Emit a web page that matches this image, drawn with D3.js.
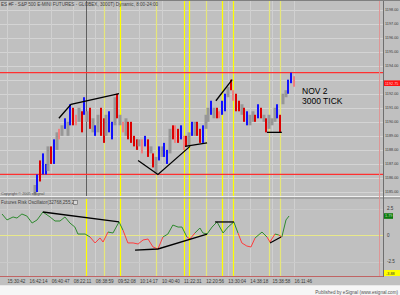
<!DOCTYPE html>
<html>
<head>
<meta charset="utf-8">
<script src="https://cdn.jsdelivr.net/npm/d3@7/dist/d3.min.js"></script>
<style>
  body { margin: 0; background: #c0c0c0; }
  svg { display: block; font-family: "Liberation Sans", Arial, sans-serif; }
</style>
</head>
<body>
<div id="chart-area"></div>
<script>
// 3000 tick bars, ES #F, Nov 2
var barHigh = [1185.5,1186.25,1187.25,1187.75,1187.0,1188.25,1188.25,1188.75,1189.25,1189.5,1189.75,1190.25,1190.0,1191.25,1191.0,1190.5,1191.0,1190.75,1191.75,1190.75,1191.0,1190.25,1189.75,1190.5,
    1191.0,1190.25,1190.5,1190.75,1190.0,1191.75,1192.0,1190.5,1190.0,1190.25,1190.0,1190.0,1189.0,1188.75,1188.75,1188.75,1189.0,1188.75,1188.25,1187.75,1187.5,1188.25,1188.25,1188.5,1188.0,1189.5,1189.75,1189.75,1189.5,1189.75,1189.0,1189.0,1189.25,1190.0,1190.0,
    1190.0,1189.5,1189.75,1190.5,1191.0,1191.5,1191.0,1191.0,1190.75,1191.5,1192.0,1192.5,1193.0,1192.25,1192.0,1191.5,1191.25,1191.0,1190.75,1190.5,1190.75,1190.5,1191.25,1191.0,1190.5,1190.25,1190.5,1190.25,1191.0,1191.25,1190.5,1192.0,1192.25,1193.0,1193.5,1193.25];
var barLow = [1184.75,1185.0,1185.75,1186.25,1186.25,1186.5,1187.0,1187.0,1188.0,1188.75,1189.0,1189.5,1189.0,1189.75,1189.75,1189.75,1190.0,1189.25,1190.5,1190.0,1189.5,1189.25,1189.0,1189.25,
    1189.0,1188.5,1189.0,1189.25,1188.75,1189.75,1190.25,1189.75,1189.25,1189.0,1188.75,1188.5,1188.25,1188.0,1188.25,1187.75,1188.25,1187.5,1187.75,1186.75,1186.25,1187.25,1187.5,1187.5,1187.0,1187.75,1188.75,1188.5,1188.5,1188.75,1188.0,1188.25,1188.25,1189.0,1189.0,
    1189.0,1188.5,1188.5,1189.5,1190.0,1190.5,1190.25,1190.25,1190.25,1190.5,1190.75,1191.75,1192.25,1191.5,1190.75,1190.75,1190.5,1190.0,1189.75,1189.75,1190.0,1190.0,1190.25,1190.25,1190.0,1189.25,1189.5,1189.75,1190.0,1190.25,1189.25,1191.25,1191.75,1192.0,1192.75,1192.5];
var barState = ["flat","up","down","up","up","flat","down","up","flat","soft","flat","up","flat","up","down","soft","flat","down","up","flat","down","flat","up","flat",
    "down","down","flat","up","up","flat","down","flat","soft","flat","down","down","down","down","flat","soft","up","down","flat","down","flat","up","flat","up","up","flat","down","soft","down","up","soft","down","flat","up","flat",
    "down","down","up","flat","flat","up","flat","down","soft","up","up","flat","down","soft","down","down","flat","down","up","flat","flat","down","up","down","flat","down","flat","flat","flat","up","down","flat","flat","up","up","soft"];

// oscillator, sampled at bar index
var oscIndex = [-11.8,-10,-7.8,-6.4,-4.6,-2.8,-0.9,0.9,3,5.6,7.4,9.2,11,12.8,14.6,15.7,18.3,20.1,21.9,23.7,24.8,26.6,28.4,30.6,32,33.8,35.7,37.5,39.3,41.1,42.9,44.7,46.5,48.3,50.1,52,53.4,55.2,56.3,58.1,59.9,61,62.5,64.3,66.1,68.3,70.1,72.2,73.7,75.1,76.9,78.4,79.9,82.4,84.2,85.3,87.1,88.5,89.6,91.1,92.2];
var oscValue = [1.98,1.42,1.7,1.6,1.98,1.79,1.13,1.42,2.17,1.7,1.32,1.32,1.7,1.13,0.75,0.09,0.09,-0.19,-0.75,-0.28,-0.66,0.28,0.19,1.23,0.47,-0.75,-0.75,-0.85,-0.47,-0.38,-1.13,-1.32,-0.19,0.09,0.94,0.75,0.75,-0.19,-0.38,0.19,0.66,0.19,0.09,0.75,1.23,0.19,0.75,1.23,0.19,-0.75,-1.04,-1.13,-0.28,0.28,-0.19,-0.66,0.09,0,-0.19,1.42,1.79];

var priceTicks = [1198,1197,1196,1195,1194,1192,1191,1190,1189,1188,1187,1186,1185];
var oscTicks = [2.5, 0, -2.5];
var timeLabels = ["15:30:42","16:42:14","06:40:47","08:22:11","08:38:59","09:52:08","10:14:17","10:40:40","11:22:31","12:20:56","13:30:04","14:38:18","15:38:58","16:11:46"];
var timeIndex = [-10,-2,6,14,22,30,38,46,54,62,70,78,86,94];

// marker lines (bar index), strong / faint
var markStrong = [31,54,56,68,72];
var markFaint = [25,44,62,85,89];
var cursorIndex = 19;
var levels = [1193.5, 1186.25];
var lastPrice = "1192.75";
var lastOsc = "1.79";
var oscMin = "-3.88";

// hand drawn trend lines: [index, value]
var priceLines = [
    [[8.8,1190.25],[13.2,1191.25],[30.6,1192.0]],
    [[37.5,1187.25],[44.7,1186.25],[56.3,1188.25]],
    [[54.5,1188.25],[62.5,1188.5]],
    [[65.7,1191.5],[71.6,1193.0]],
    [[84.2,1189.25],[89.6,1189.25]]
];
var oscLines = [
    [[3,2.17],[30.6,1.23]],
    [[36.4,-1.42],[44.7,-1.32],[62.5,0.09]],
    [[65.4,1.23],[72.2,1.23]],
    [[85.3,-0.75],[89.3,-0.19]]
];

var W = 400, H = 295;
var plotRight = 384;

var svg = d3.select("#chart-area")
    .append("svg")
        .attr("width", W)
        .attr("height", H);

var x = d3.scaleLinear().domain([0, 94]).range([34.6, 294]);
var y = d3.scaleLinear().domain([1185, 1198]).range([192, 9.5]);
var yo = d3.scaleLinear().domain([-2.5, 2.5]).range([261.5, 208.5]);

var color = d3.scaleOrdinal()
    .domain(["up","down","flat","soft"])
    .range(["#1010ff","#dc0000","#979797","#f07f7f"]);

svg.append("rect").attr("width", W).attr("height", H).attr("fill", "#c0c0c0");

svg.append("clipPath").attr("id", "top").append("rect")
    .attr("x", 0).attr("y", 1).attr("width", plotRight).attr("height", 195);
svg.append("clipPath").attr("id", "bot").append("rect")
    .attr("x", 0).attr("y", 199).attr("width", plotRight).attr("height", 77);

// grid
svg.selectAll(".hgrid").data(priceTicks.concat([1193])).enter().append("line")
    .attr("x1", 0).attr("x2", plotRight)
    .attr("y1", d => Math.round(y(d)) + 0.5).attr("y2", d => Math.round(y(d)) + 0.5)
    .attr("stroke", "#d4d4d4");
svg.selectAll(".vgrid").data(timeIndex).enter().append("line")
    .attr("x1", d => Math.round(x(d)) + 0.5).attr("x2", d => Math.round(x(d)) + 0.5)
    .attr("y1", 1).attr("y2", 276)
    .attr("stroke", "#d0d0d0");
svg.selectAll(".ogrid").data([2.5, -2.5]).enter().append("line")
    .attr("x1", 0).attr("x2", plotRight)
    .attr("y1", d => Math.round(yo(d)) + 0.5).attr("y2", d => Math.round(yo(d)) + 0.5)
    .attr("stroke", "#cacaca");
svg.append("line")
    .attr("x1", 0).attr("x2", plotRight)
    .attr("y1", Math.round(yo(0)) + 0.5).attr("y2", Math.round(yo(0)) + 0.5)
    .attr("stroke", "#e8e88a");

// yellow markers
function marks(list, col) {
    svg.selectAll(null).data(list).enter().append("line")
        .attr("x1", d => Math.round(x(d)) + 0.5).attr("x2", d => Math.round(x(d)) + 0.5)
        .attr("y1", 1).attr("y2", 276)
        .attr("stroke", col).attr("stroke-width", 1.2);
}
marks(markFaint, "#e6e67a");
marks(markStrong, "#ffff00");
svg.append("line")
    .attr("x1", Math.round(x(cursorIndex)) - 0.5).attr("x2", Math.round(x(cursorIndex)) - 0.5)
    .attr("y1", 1).attr("y2", 196)
    .attr("stroke", "#606060").attr("stroke-width", 1);
svg.append("line")
    .attr("x1", Math.round(x(cursorIndex)) - 0.5).attr("x2", Math.round(x(cursorIndex)) - 0.5)
    .attr("y1", 199).attr("y2", 276)
    .attr("stroke", "#ffff00").attr("stroke-width", 1.2);

// level lines
svg.selectAll(".lvl").data(levels).enter().append("line")
    .attr("x1", 0).attr("x2", plotRight)
    .attr("y1", d => y(d)).attr("y2", d => y(d))
    .attr("stroke", "#ff3030").attr("stroke-width", 1.2);

// bars
var bars = svg.append("g").attr("clip-path", "url(#top)");
bars.selectAll("rect")
    .data(barHigh)
    .enter()
        .append("rect")
        .attr("x", (d, i) => Math.round(x(i)) - (barState[i] == "flat" ? 1.5 : 1))
        .attr("y", d => y(d))
        .attr("width", (d, i) => barState[i] == "flat" ? 3 : 2)
        .attr("height", (d, i) => Math.max(2, y(barLow[i]) - y(d)))
        .attr("fill", (d, i) => color(barState[i]));

var line = d3.line().x(d => x(d[0])).y(d => y(d[1]));
bars.selectAll("path")
    .data(priceLines)
    .enter()
        .append("path")
        .attr("d", line)
        .attr("fill", "none")
        .attr("stroke", "#000")
        .attr("stroke-width", 1.3);

// oscillator
var osc = svg.append("g").attr("clip-path", "url(#bot)");
osc.selectAll("line")
    .data(oscValue.slice(1))
    .enter()
        .append("line")
        .attr("x1", (d, i) => x(oscIndex[i]))
        .attr("y1", (d, i) => yo(oscValue[i]))
        .attr("x2", (d, i) => x(oscIndex[i + 1]))
        .attr("y2", d => yo(d))
        .attr("stroke", (d, i) => (d + oscValue[i]) / 2 < -0.08 ? "#ff3c3c" : "#2e8a2e")
        .attr("stroke-width", 1);

var oline = d3.line().x(d => x(d[0])).y(d => yo(d[1]));
osc.selectAll("path")
    .data(oscLines)
    .enter()
        .append("path")
        .attr("d", oline)
        .attr("fill", "none")
        .attr("stroke", "#000")
        .attr("stroke-width", 1.3);

// frame
svg.append("line").attr("x1", 0).attr("x2", W).attr("y1", 0.5).attr("y2", 0.5).attr("stroke", "#808080");
svg.append("line").attr("x1", 0).attr("x2", W).attr("y1", 196.5).attr("y2", 196.5).attr("stroke", "#f0f0f0");
svg.append("line").attr("x1", 0).attr("x2", W).attr("y1", 198).attr("y2", 198).attr("stroke", "#8a8a8a");
svg.append("line").attr("x1", 0).attr("x2", plotRight).attr("y1", 276.5).attr("y2", 276.5).attr("stroke", "#c06464").attr("stroke-width", 1.2);
svg.append("line").attr("x1", x(125)).attr("x2", x(125)).attr("y1", 1).attr("y2", 276).attr("stroke", "#e09494");
svg.append("line").attr("x1", plotRight - 0.5).attr("x2", plotRight - 0.5).attr("y1", 1).attr("y2", 277).attr("stroke", "#6e6e6e");
svg.append("rect").attr("x", 0).attr("y", 286).attr("width", W).attr("height", 9).attr("fill", "#f6f6f6");
svg.append("line").attr("x1", 0).attr("x2", W).attr("y1", 285.5).attr("y2", 285.5).attr("stroke", "#e8e8e8");

var small = 4.6;
var axisFont = 3.8;

// price axis
svg.selectAll(".pl").data(priceTicks).enter().append("text")
    .attr("x", 385).attr("y", d => y(d) + 1.4)
    .attr("font-size", axisFont).attr("fill", "#3a3a3a")
    .text(d => d3.format(".2f")(d));
svg.append("rect").attr("x", 384).attr("y", y(+lastPrice) - 2.8).attr("width", 16).attr("height", 5.6).attr("fill", "#ff1010");
svg.append("text").attr("x", 385).attr("y", y(+lastPrice) + 1.4)
    .attr("font-size", axisFont).attr("fill", "#ffd0d0")
    .text(lastPrice);

// osc axis
svg.selectAll(".ol").data(oscTicks).enter().append("text")
    .attr("x", 387).attr("y", d => yo(d) + 1.6)
    .attr("font-size", small).attr("fill", "#3a3a3a")
    .text(d => d);
svg.append("rect").attr("x", 384).attr("y", yo(+lastOsc) - 2.8).attr("width", 9).attr("height", 5.6).attr("fill", "#0c7a0c");
svg.append("text").attr("x", 385).attr("y", yo(+lastOsc) + 1.4)
    .attr("font-size", axisFont).attr("fill", "#c0e0c0")
    .text(lastOsc);
svg.append("rect").attr("x", 384).attr("y", 270).attr("width", 16).attr("height", 6).attr("fill", "#ffff00");
svg.append("text").attr("x", 386).attr("y", 274.6)
    .attr("font-size", axisFont).attr("fill", "#333")
    .text(oscMin);

// time axis
svg.selectAll(".tl").data(timeLabels).enter().append("text")
    .attr("x", (d, i) => x(timeIndex[i]) + 0.5).attr("y", 282.5)
    .attr("font-size", small).attr("fill", "#3a3a3a")
    .text(d => d);

// titles
svg.append("text").attr("x", 1).attr("y", 5.5).attr("font-size", small).attr("fill", "#404040")
    .text("ES #F - S&P 500 E-MINI FUTURES - GLOBEX, 3000T) Dynamic, 8:00-24:00");
svg.append("text").attr("x", 1).attr("y", 195).attr("font-size", 3.8).attr("fill", "#505050")
    .text("Copyright © 2005 eSignal");
svg.append("text").attr("x", 1).attr("y", 204).attr("font-size", small).attr("fill", "#404040")
    .text("Futures Risk Oscillator(32768,255,2)");
svg.append("rect").attr("x", 73.5).attr("y", 200.5).attr("width", 4).attr("height", 4)
    .attr("fill", "#d8d8d8").attr("stroke", "#606060").attr("stroke-width", 0.6);
svg.append("text").attr("x", 398).attr("y", 293.5).attr("text-anchor", "end")
    .attr("font-size", small).attr("fill", "#505050")
    .text("Published by eSignal (www.esignal.com)");

svg.append("text").attr("x", 302).attr("y", 94.3).attr("font-size", 8.5).attr("fill", "#000").text("NOV 2");
svg.append("text").attr("x", 302).attr("y", 104).attr("font-size", 8.5).attr("fill", "#000").text("3000 TICK");
</script>
</body>
</html>
